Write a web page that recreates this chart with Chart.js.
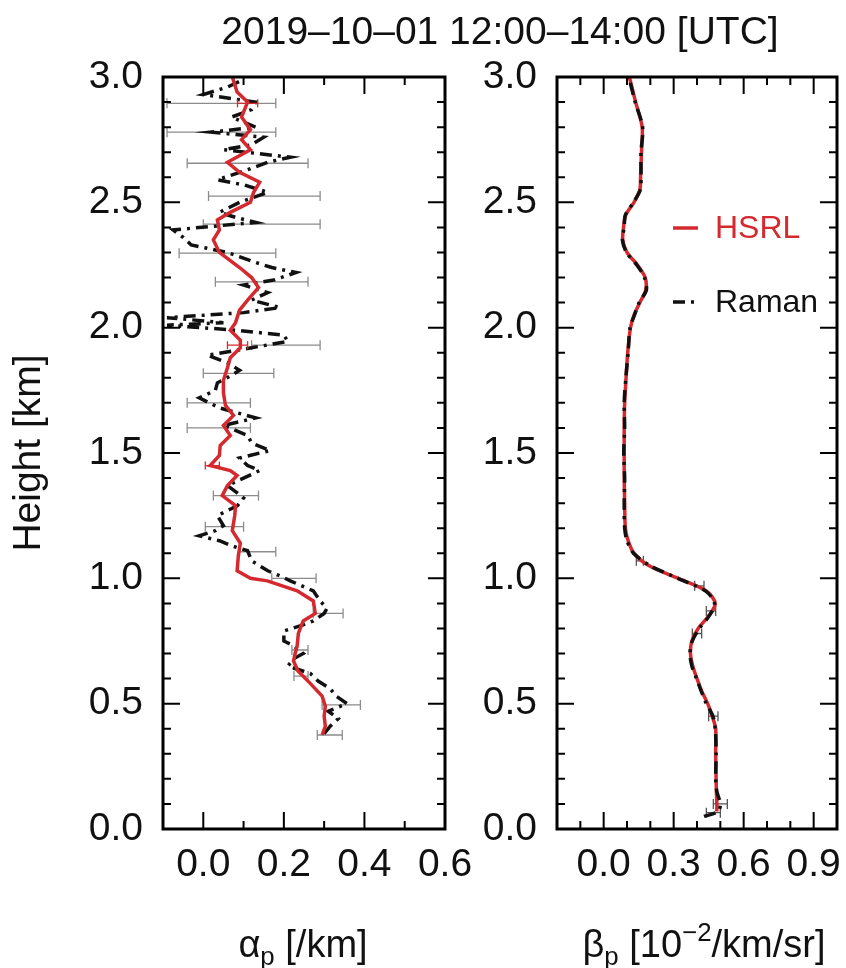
<!DOCTYPE html>
<html lang="en">
<head>
  <meta charset="UTF-8" />
  <title>HSRL / Raman profiles 2019-10-01</title>
  <style>
    body, html {
      margin: 0;
      width: 846px;
      height: 968px;
      overflow: hidden;
      background: #fff;
      font-family: 'Liberation Sans', Arial, sans-serif;
    }
    #wrap { position: relative; width: 846px; height: 968px; }
    #alphaChart { position: absolute; left: 0; top: 0; }
    #betaChart { position: absolute; left: 476px; top: 0; }
    .label {
      position: absolute;
      white-space: nowrap;
      color: #111;
      line-height: 44px;
      transform: translateX(-50%);
    }
    #title { left: 500px; top: 9px; font-size: 39px; }
    #alphaLabel { left: 303px; top: 922px; font-size: 38px; }
    #betaLabel { left: 704px; top: 922px; font-size: 38px; }
    .sub { font-size: 0.68em; vertical-align: -0.32em; line-height: 0; }
    .sup { font-size: 0.68em; vertical-align: 0.62em; line-height: 0; }
  </style>
</head>
<body>
<div id="wrap">
  <canvas id="alphaChart" width="476" height="968"></canvas>
  <canvas id="betaChart" width="370" height="968"></canvas>
  <div id="title" class="label">2019–10–01 12:00–14:00 [UTC]</div>
  <div id="alphaLabel" class="label">α<span class="sub">p</span> [/km]</div>
  <div id="betaLabel" class="label">β<span class="sub">p</span> [10<span class="sup">−2</span>/km/sr]</div>
</div>

<script src="https://cdn.jsdelivr.net/npm/chart.js"></script>
<script>
  // ---- data ----
  const heightTicks = [0, 0.5, 1.0, 1.5, 2.0, 2.5, 3.0];
  const heightMinorTicks = [0.1, 0.2, 0.3, 0.4, 0.6, 0.7, 0.8, 0.9, 1.1, 1.2, 1.3, 1.4,
    1.6, 1.7, 1.8, 1.9, 2.1, 2.2, 2.3, 2.4, 2.6, 2.7, 2.8, 2.9];
  const alphaTicks = [0.0, 0.2, 0.4, 0.6];
  const alphaMinorTicks = [0.1, 0.3, 0.5];
  const betaTicks = [0.0, 0.3, 0.6, 0.9];
  const betaMinorTicks = [-0.1, 0.1, 0.2, 0.4, 0.5, 0.7, 0.8];

  // extinction, HSRL
  const hsrlAlphaHeights = [0.375, 0.41, 0.45, 0.49, 0.53, 0.58, 0.63, 0.67, 0.70, 0.73, 0.78, 0.83,
    0.86, 0.91, 0.95, 0.99, 1.00, 1.03, 1.09, 1.14, 1.19, 1.25, 1.29, 1.33, 1.37, 1.41, 1.43, 1.45,
    1.49, 1.53, 1.57, 1.61, 1.65, 1.69, 1.74, 1.79, 1.84, 1.88, 1.92, 1.95, 1.99, 2.02, 2.07, 2.11,
    2.16, 2.20, 2.24, 2.30, 2.35, 2.39, 2.43, 2.46, 2.50, 2.54, 2.58, 2.62, 2.66, 2.71, 2.75, 2.79,
    2.84, 2.90, 2.94, 3.00];
  const hsrlAlpha = [0.295, 0.303, 0.300, 0.303, 0.295, 0.266, 0.235, 0.224, 0.228, 0.233, 0.236, 0.248,
    0.278, 0.273, 0.233, 0.159, 0.117, 0.084, 0.087, 0.092, 0.072, 0.078, 0.080, 0.047, 0.060, 0.084, 0.067, 0.017,
    0.040, 0.042, 0.067, 0.050, 0.075, 0.055, 0.050, 0.050, 0.060, 0.067, 0.092, 0.092, 0.067, 0.080, 0.090, 0.110,
    0.137, 0.120, 0.090, 0.040, 0.025, 0.040, 0.035, 0.067, 0.117, 0.125, 0.140, 0.090, 0.060, 0.117, 0.095, 0.117,
    0.095, 0.110, 0.084, 0.072];

  // extinction, Raman
  const ramanAlphaHeights = [0.38, 0.41, 0.44, 0.47, 0.50, 0.53, 0.56, 0.59, 0.62, 0.65, 0.68, 0.70,
    0.73, 0.75, 0.79, 0.81, 0.83, 0.86, 0.88, 0.91, 0.95, 0.99, 1.01, 1.03, 1.07, 1.11, 1.13, 1.15,
    1.17, 1.19, 1.21, 1.25, 1.29, 1.32, 1.34, 1.37, 1.40, 1.43, 1.45, 1.48, 1.51, 1.54, 1.57, 1.61,
    1.64, 1.68, 1.72, 1.75, 1.78, 1.81, 1.83, 1.86, 1.89, 1.92, 1.945, 1.97, 1.99, 2.01, 2.02, 2.04,
    2.06, 2.08, 2.11, 2.14, 2.17, 2.19, 2.22, 2.24, 2.26, 2.30, 2.33, 2.36, 2.39, 2.42, 2.44, 2.46,
    2.50, 2.54, 2.57, 2.59, 2.63, 2.66, 2.68, 2.71, 2.73, 2.76, 2.78, 2.80, 2.84, 2.87, 2.90, 2.93,
    2.96, 2.99];
  const ramanAlpha = [0.300, 0.315, 0.335, 0.310, 0.357, 0.330, 0.315, 0.285, 0.266, 0.210, 0.225, 0.248,
    0.225, 0.200, 0.200, 0.240, 0.273, 0.300, 0.307, 0.290, 0.273, 0.216, 0.190, 0.160, 0.120, 0.110, 0.070, 0.040,
    -0.010, 0.030, 0.050, 0.035, 0.085, 0.100, 0.085, 0.060, 0.100, 0.140, 0.110, 0.090, 0.166, 0.120, 0.110, 0.050,
    0.130, 0.040, -0.010, 0.030, 0.035, 0.070, 0.090, 0.060, 0.010, 0.120, 0.210, 0.200, 0.080, -0.090, 0.050, -0.090,
    0.100, 0.190, 0.120, 0.160, 0.100, 0.175, 0.230, 0.170, 0.130, 0.060, -0.030, -0.050, -0.075, 0.130, 0.080, 0.040,
    0.090, 0.160, 0.100, 0.035, 0.110, 0.160, 0.216, 0.050, 0.120, 0.150, 0.020, 0.130, 0.070, 0.120, 0.130, 0.000,
    0.060, 0.100];

  // Raman extinction error bars
  const ramanErrHeights = [0.375, 0.495, 0.61, 0.714, 0.86, 1.0, 1.106, 1.206, 1.33, 1.60, 1.70, 1.818,
    1.93, 2.183, 2.297, 2.413, 2.525, 2.656, 2.78, 2.895];
  const ramanErrLo = [0.283, 0.295, 0.225, 0.220, 0.273, 0.170, 0.090, 0.005, 0.025, -0.040, -0.040, 0.000,
    0.120, 0.030, -0.060, 0.000, 0.013, -0.040, -0.090, -0.090];
  const ramanErrHi = [0.345, 0.390, 0.260, 0.260, 0.347, 0.280, 0.180, 0.100, 0.137, 0.117, 0.117, 0.175,
    0.290, 0.260, 0.180, 0.290, 0.290, 0.260, 0.180, 0.180];

  // HSRL extinction error bars
  const hsrlErrHeights = [1.45, 1.93, 2.895];
  const hsrlErrLo = [0.005, 0.060, 0.085];
  const hsrlErrHi = [0.040, 0.110, 0.135];

  // backscatter
  const betaHeights = [0.05, 0.07, 0.1, 0.15, 0.2, 0.3, 0.4, 0.45, 0.5, 0.55, 0.6, 0.65, 0.7, 0.75,
    0.8, 0.85, 0.9, 0.95, 1.0, 1.05, 1.1, 1.15, 1.2, 1.3, 1.4, 1.5, 1.6, 1.7, 1.8, 1.9, 2.0, 2.05,
    2.1, 2.15, 2.2, 2.25, 2.3, 2.35, 2.4, 2.45, 2.5, 2.55, 2.6, 2.7, 2.8, 2.9, 3.0];
  const hsrlBeta = [null, 0.485, 0.485, 0.483, 0.482, 0.480, 0.480, 0.465, 0.446, 0.420, 0.400, 0.382, 0.372, 0.378,
    0.405, 0.450, 0.478, 0.440, 0.320, 0.195, 0.130, 0.105, 0.093, 0.090, 0.088, 0.088, 0.088, 0.090, 0.096, 0.103, 0.115, 0.130,
    0.155, 0.180, 0.178, 0.145, 0.100, 0.082, 0.085, 0.095, 0.130, 0.155, 0.158, 0.162, 0.165, 0.137, 0.110];
  const ramanBeta = [0.430, 0.490, 0.500, 0.485, 0.480, 0.482, 0.478, 0.468, 0.440, 0.418, 0.398, 0.378, 0.370, 0.380,
    0.410, 0.452, 0.475, 0.436, 0.318, 0.200, 0.128, 0.100, 0.090, 0.088, 0.090, 0.086, 0.090, 0.088, 0.095, 0.105, 0.113, 0.132,
    0.152, 0.183, 0.175, 0.142, 0.098, 0.080, 0.088, 0.093, 0.128, 0.157, 0.160, 0.160, 0.167, 0.135, 0.108];

  const betaErrHeights = [0.065, 0.10, 0.45, 0.78, 0.87, 0.97, 1.07];
  const betaErrLo = [0.440, 0.470, 0.450, 0.380, 0.440, 0.390, 0.140];
  const betaErrHi = [0.500, 0.530, 0.490, 0.420, 0.480, 0.430, 0.170];

  // ---- styling ----
  const RED = '#d42a2f';
  const INK = '#111';
  const FONT = "'Liberation Sans', Arial, sans-serif";
  const RAMAN_DASH = [12, 6, 3, 6];
  Chart.defaults.font.family = FONT;
  Chart.defaults.color = INK;

  function profile(heights, values) {
    return heights.map((h, i) => ({ x: values[i], y: h }));
  }

  function errorBars(heights, lo, hi) {
    const pts = [];
    heights.forEach((h, i) => {
      pts.push({ x: lo[i], y: h }, { x: hi[i], y: h }, { x: null, y: null });
    });
    return pts;
  }

  function errorDataset(label, data, color, width, cap) {
    return {
      label, data,
      showLine: true,
      spanGaps: false,
      borderColor: color,
      borderWidth: width,
      pointStyle: 'line',
      pointRotation: 90,
      pointRadius: cap,
      pointBorderColor: color,
      pointBorderWidth: width
    };
  }

  // inward major/minor tick marks on all four sides plus the box
  function frameTicks(xMajor, xMinor) {
    return {
      id: 'frameTicks',
      afterDraw(chart) {
        const { ctx, chartArea: a } = chart;
        const sx = chart.scales.x, sy = chart.scales.y;
        ctx.save();
        ctx.strokeStyle = '#000';
        ctx.lineWidth = 2;
        ctx.beginPath();
        const xt = (vals, len) => vals.forEach(v => {
          const px = sx.getPixelForValue(v);
          ctx.moveTo(px, a.bottom); ctx.lineTo(px, a.bottom - len);
          ctx.moveTo(px, a.top); ctx.lineTo(px, a.top + len);
        });
        const yt = (vals, len) => vals.forEach(v => {
          const py = sy.getPixelForValue(v);
          ctx.moveTo(a.left, py); ctx.lineTo(a.left + len, py);
          ctx.moveTo(a.right, py); ctx.lineTo(a.right - len, py);
        });
        xt(xMajor, 17); xt(xMinor, 8);
        yt(heightTicks, 17); yt(heightMinorTicks, 8);
        ctx.stroke();
        ctx.lineWidth = 3;
        ctx.strokeRect(a.left, a.top, a.right - a.left, a.bottom - a.top);
        ctx.restore();
      }
    };
  }

  // legend drawn inside the right panel, using the datasets' own line styles
  const profileLegend = {
    id: 'profileLegend',
    afterDraw(chart) {
      const { ctx, chartArea: a } = chart;
      const items = [
        { ds: chart.data.datasets[1], color: RED, dy: 151 },
        { ds: chart.data.datasets[0], color: INK, dy: 225 }
      ];
      ctx.save();
      ctx.font = '32px ' + FONT;
      ctx.textBaseline = 'middle';
      items.forEach(it => {
        const y = a.top + it.dy;
        ctx.strokeStyle = it.ds.borderColor;
        ctx.lineWidth = it.ds.borderWidth;
        ctx.setLineDash(it.ds.borderDash || []);
        ctx.beginPath();
        ctx.moveTo(a.left + 116, y);
        ctx.lineTo(a.left + 141, y);
        ctx.stroke();
        ctx.fillStyle = it.color;
        ctx.fillText(it.ds.label, a.left + 158, y + 1);
      });
      ctx.restore();
    }
  };

  function panelOptions(opts) {
    return {
      responsive: false,
      animation: false,
      events: [],
      layout: { padding: { left: 0, top: 77, right: opts.padRight, bottom: 0 } },
      plugins: { legend: { display: false }, tooltip: { enabled: false } },
      scales: {
        x: {
          type: 'linear',
          min: opts.xMin,
          max: opts.xMax,
          afterBuildTicks: s => { s.ticks = opts.xTicks.map(v => ({ value: v })); },
          afterFit: s => { s.height = 139; s.paddingLeft = 0; s.paddingRight = 0; },
          grid: { display: false, drawTicks: false },
          border: { display: false },
          ticks: {
            autoSkip: false, maxRotation: 0, minRotation: 0, padding: 13,
            color: INK, font: { size: 39 },
            callback: v => v.toFixed(1)
          }
        },
        y: {
          type: 'linear',
          min: 0,
          max: 3,
          afterBuildTicks: s => { s.ticks = heightTicks.map(v => ({ value: v })); },
          afterFit: s => { s.width = opts.yWidth; s.paddingTop = 0; s.paddingBottom = 0; },
          grid: { display: false, drawTicks: false },
          border: { display: false },
          ticks: {
            autoSkip: false, padding: 20,
            color: INK, font: { size: 39 },
            callback: v => v.toFixed(1)
          },
          title: {
            display: opts.yTitle,
            text: 'Height [km]',
            color: INK,
            font: { size: 39 },
            padding: { top: 6, bottom: 0 }
          }
        }
      }
    };
  }

  new Chart(document.getElementById('alphaChart'), {
    type: 'scatter',
    data: {
      datasets: [
        { label: 'HSRL', data: profile(hsrlAlphaHeights, hsrlAlpha), showLine: true,
          borderColor: RED, borderWidth: 3.5, pointRadius: 0, tension: 0 },
        errorDataset('HSRL error', errorBars(hsrlErrHeights, hsrlErrLo, hsrlErrHi), RED, 1.3, 4),
        { label: 'Raman', data: profile(ramanAlphaHeights, ramanAlpha), showLine: true,
          borderColor: INK, borderWidth: 3.5, borderDash: RAMAN_DASH, pointRadius: 0, tension: 0 },
        errorDataset('Raman error', errorBars(ramanErrHeights, ramanErrLo, ramanErrHi), '#8c8c8c', 1.3, 5)
      ]
    },
    options: panelOptions({ xMin: -0.1, xMax: 0.6, xTicks: alphaTicks, yWidth: 163, padRight: 31, yTitle: true }),
    plugins: [frameTicks(alphaTicks, alphaMinorTicks)]
  });

  new Chart(document.getElementById('betaChart'), {
    type: 'scatter',
    data: {
      datasets: [
        { label: 'Raman', data: profile(betaHeights, ramanBeta), showLine: true,
          borderColor: INK, borderWidth: 3.5, borderDash: RAMAN_DASH, pointRadius: 0, tension: 0.3 },
        { label: 'HSRL', data: profile(betaHeights, hsrlBeta), showLine: true,
          borderColor: RED, borderWidth: 3.5, pointRadius: 0, tension: 0.3 },
        errorDataset('Raman error', errorBars(betaErrHeights, betaErrLo, betaErrHi), '#555', 1.3, 5)
      ]
    },
    options: panelOptions({ xMin: -0.2, xMax: 1.0, xTicks: betaTicks, yWidth: 81, padRight: 9, yTitle: false }),
    plugins: [frameTicks(betaTicks, betaMinorTicks), profileLegend]
  });
</script>
</body>
</html>
